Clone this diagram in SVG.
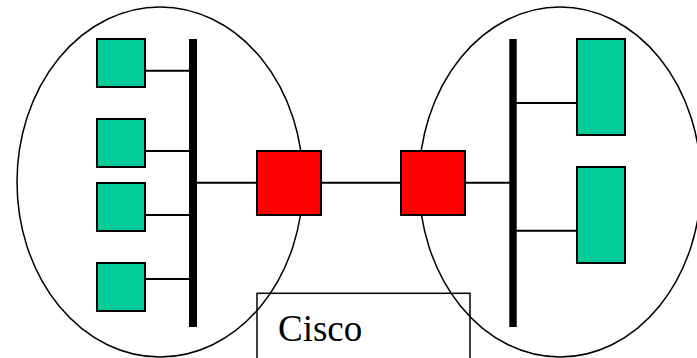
<svg xmlns="http://www.w3.org/2000/svg" width="697" height="358" viewBox="0 0 697 358">
  <style>
    .zone { fill: none; stroke: #000; stroke-width: 1.5; }
    .host { fill: #00CC99; stroke: #000; stroke-width: 2; }
    .router { fill: #FF0000; stroke: #000; stroke-width: 2; }
    .bus { fill: #000; }
    .link { stroke: #000; stroke-width: 2; fill: none; }
    .label { font-family: "Liberation Serif", "Times New Roman", serif; font-size: 37px; fill: #000; }
  </style>
  <rect width="697" height="358" fill="#fff"/>

  <!-- network zones -->
  <g id="zone-left"><ellipse class="zone" cx="160" cy="182" rx="143" ry="175"/></g>
  <g id="zone-right"><ellipse class="zone" cx="560" cy="182" rx="141" ry="175"/></g>

  <!-- connectors -->
  <g id="connectors">
    <line class="link" x1="145" y1="70.7" x2="190" y2="70.7"/>
    <line class="link" x1="145" y1="151" x2="190" y2="151"/>
    <line class="link" x1="145" y1="215" x2="190" y2="215"/>
    <line class="link" x1="145" y1="279" x2="190" y2="279"/>
    <line class="link" x1="196" y1="182.7" x2="257" y2="182.7"/>
    <line class="link" x1="321" y1="182.7" x2="401" y2="182.7"/>
    <line class="link" x1="465" y1="182.7" x2="510" y2="182.7"/>
    <line class="link" x1="516" y1="103" x2="577" y2="103"/>
    <line class="link" x1="516" y1="230.7" x2="577" y2="230.7"/>
  </g>

  <!-- buses -->
  <g id="bus-left"><rect class="bus" x="189" y="39" width="8" height="288"/></g>
  <g id="bus-right"><rect class="bus" x="509.3" y="39" width="7.4" height="288"/></g>

  <!-- hosts -->
  <g id="host-l1"><rect class="host" x="97" y="39" width="48" height="48"/></g>
  <g id="host-l2"><rect class="host" x="97" y="119" width="48" height="48"/></g>
  <g id="host-l3"><rect class="host" x="97" y="183" width="48" height="48"/></g>
  <g id="host-l4"><rect class="host" x="97" y="263" width="48" height="48"/></g>
  <g id="host-r1"><rect class="host" x="577" y="39" width="48" height="96"/></g>
  <g id="host-r2"><rect class="host" x="577" y="167" width="48" height="96"/></g>

  <!-- routers -->
  <g id="router-left"><rect class="router" x="257" y="151" width="64" height="64"/></g>
  <g id="router-right"><rect class="router" x="401" y="151" width="64" height="64"/></g>

  <!-- label box -->
  <g id="label-cisco">
    <rect x="257" y="293.3" width="213" height="80" fill="none" stroke="#000" stroke-width="1.5"/>
    <text class="label" x="278" y="341">Cisco</text>
  </g>
</svg>
